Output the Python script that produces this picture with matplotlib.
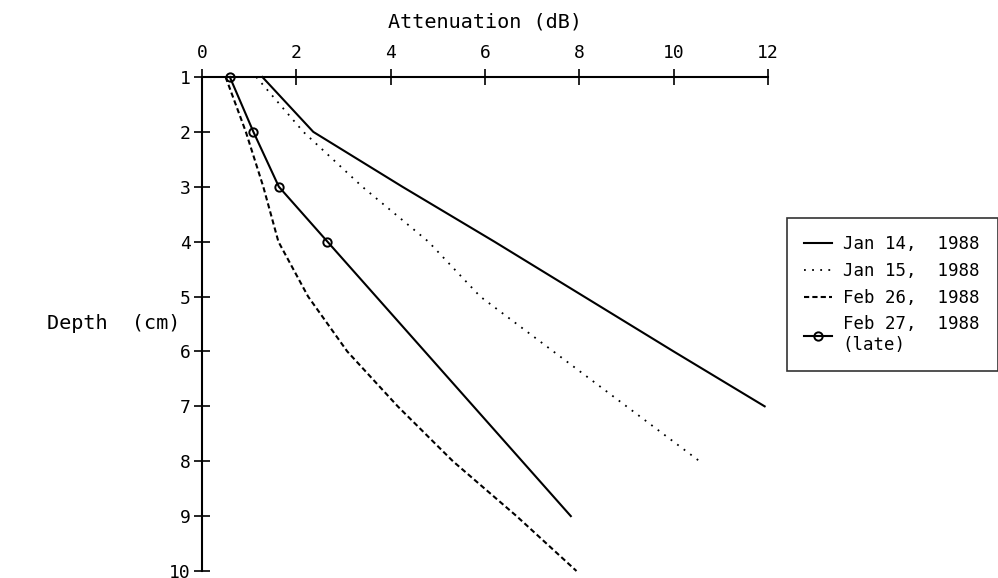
import matplotlib
matplotlib.use("Agg")
import matplotlib.pyplot as plt

# depth (cm) vs attenuation (dB)
depth_jan14 = [1, 2, 3, 4, 5, 6, 7]
atten_jan14 = [1.28, 2.36, 4.25, 6.2, 8.1, 10.0, 11.93]

depth_jan15 = [1, 2, 3, 4, 5, 6, 7, 8]
atten_jan15 = [1.15, 2.15, 3.4, 4.8, 5.9, 7.45, 9.0, 10.55]

depth_feb26 = [1, 2, 3, 4, 5, 6, 7, 8, 9, 10]
atten_feb26 = [0.5, 0.93, 1.3, 1.62, 2.25, 3.08, 4.15, 5.32, 6.67, 7.94]

depth_feb27 = [1, 2, 3, 4, 9]
atten_feb27 = [0.59, 1.09, 1.63, 2.66, 7.82]

labels = ["Jan 14,  1988", "Jan 15,  1988", "Feb 26,  1988", "Feb 27,  1988\n(late)"]
x_ticks = [0, 2, 4, 6, 8, 10, 12]
y_ticks = [1, 2, 3, 4, 5, 6, 7, 8, 9, 10]

plt.rcParams["font.family"] = ["DejaVu Sans Mono", "DejaVu Sans"]
plt.rcParams["font.size"] = 13

fig = plt.figure(figsize=(9.98, 5.78), dpi=100)
ax = fig.add_axes([0.2024, 0.0121, 0.5671, 0.8547])

ax.plot(atten_jan14, depth_jan14, color="black", lw=1.5, ls="-",
        label=labels[0], clip_on=False)
ax.plot(atten_jan15, depth_jan15, color="black", lw=1.3, ls=(0, (1, 3.5)),
        label=labels[1], clip_on=False)
ax.plot(atten_feb26, depth_feb26, color="black", lw=1.5, ls=(0, (2.5, 1.5)),
        label=labels[2], clip_on=False)
ax.plot(atten_feb27, depth_feb27, color="black", lw=1.5, ls="-",
        marker="o", markersize=6, mfc="none", mec="black", mew=1.4,
        markevery=[0, 1, 2, 3], label=labels[3], clip_on=False)

ax.set_xlim(0, 12)
ax.set_ylim(10, 1)
ax.set_xticks(x_ticks)
ax.set_yticks(y_ticks)
ax.xaxis.tick_top()
ax.xaxis.set_label_position("top")
ax.set_xlabel("Attenuation (dB)", labelpad=12, fontsize=14.5)
ax.set_ylabel("Depth  (cm)", rotation=0, labelpad=40, va="center", fontsize=14.5)

for side in ["right", "bottom"]:
    ax.spines[side].set_visible(False)
for side in ["top", "left"]:
    ax.spines[side].set_linewidth(1.5)
ax.tick_params(direction="inout", length=12, width=1.2, pad=2)
ax.tick_params(axis="x", pad=5)

leg = fig.legend(loc="upper left", bbox_to_anchor=(0.7886, 0.345, 0.2114, 0.278),
                 mode="expand", borderaxespad=0, frameon=True, fancybox=False,
                 handlelength=1.6, handletextpad=0.6, numpoints=1,
                 labelspacing=0.5, borderpad=1.0, fontsize=12.5)
leg.get_frame().set_edgecolor("black")
leg.get_frame().set_linewidth(1.2)

fig.savefig("out.png", dpi=100)
plt.close(fig)
